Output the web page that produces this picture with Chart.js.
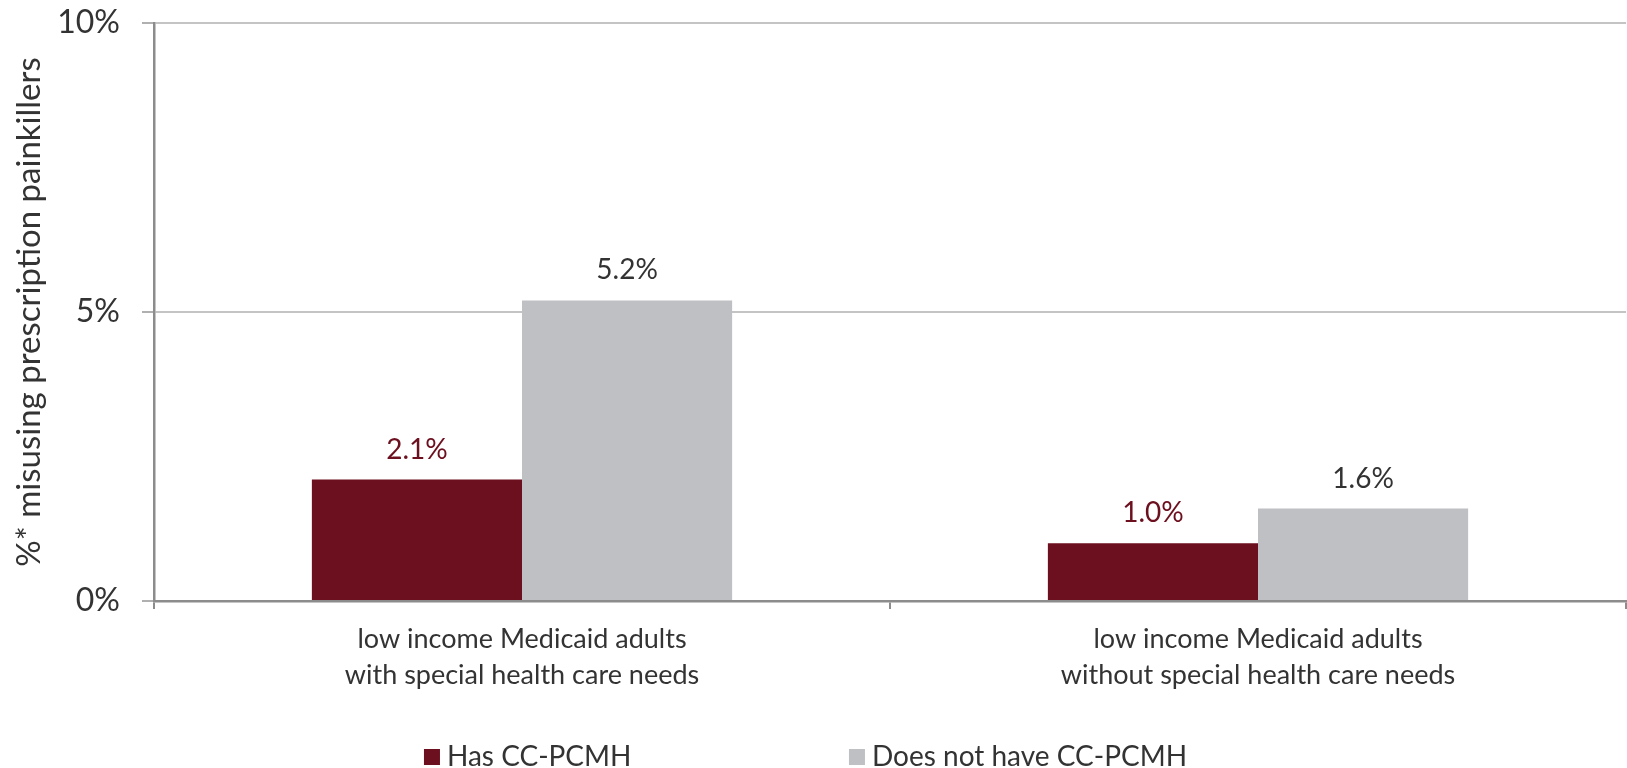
<!DOCTYPE html>
<html>
<head>
<meta charset="utf-8">
<script src="https://cdn.jsdelivr.net/npm/chart.js@4"></script>
<style>
html, body { margin: 0; padding: 0; background: #fff; }
#wrap { width: 1627px; height: 768px; }
</style>
</head>
<body>
<div id="wrap"><canvas id="grafico"></canvas></div>
<script>
// dados do gráfico
const categorias = [
  ['low income Medicaid adults', 'with special health care needs'],
  ['low income Medicaid adults', 'without special health care needs']
];
const nomesSeries = ['Has CC-PCMH', 'Does not have CC-PCMH'];
const temPCMH = [2.1, 1.0];
const semPCMH = [5.2, 1.6];
const ticksY = [0, 5, 10];
const tituloY = '%* misusing prescription painkillers';

const FONTE = 'Lato, "Gill Sans", "DejaVu Sans", sans-serif';
const VERMELHO = '#6c0f1e';
const CINZA = '#bfc0c4';
const TEXTO = '#333333';

// rótulos de valor em cima das barras
const rotulosValor = {
  id: 'rotulosValor',
  afterDatasetsDraw(chart) {
    const ctx = chart.ctx;
    ctx.save();
    ctx.font = '28px ' + FONTE;
    ctx.textAlign = 'center';
    ctx.textBaseline = 'bottom';
    chart.data.datasets.forEach((ds, i) => {
      const meta = chart.getDatasetMeta(i);
      ctx.fillStyle = ds.corRotulo;
      meta.data.forEach((bar, j) => {
        ctx.fillText(ds.data[j].toFixed(1) + '%', bar.x, bar.y - 16);
      });
    });
    ctx.restore();
  }
};

// legenda embaixo, itens com passo fixo entre o início de cada um
const legendaLarga = {
  id: 'legendaLarga',
  afterDraw(chart) {
    const ctx = chart.ctx;
    const caixa = 16, espaco = 7, passo = 425;
    ctx.save();
    ctx.font = '28px ' + FONTE;
    ctx.textBaseline = 'middle';
    const itens = chart.data.datasets.map(ds => ({
      texto: ds.label,
      cor: ds.backgroundColor,
      largura: caixa + espaco + ctx.measureText(ds.label).width
    }));
    const total = passo * (itens.length - 1) + itens[itens.length - 1].largura;
    let x = chart.width / 2 - total / 2 - 8;
    const y = chart.height - 11;
    itens.forEach(it => {
      ctx.fillStyle = it.cor;
      ctx.fillRect(x, y - caixa / 2, caixa, caixa);
      ctx.fillStyle = TEXTO;
      ctx.fillText(it.texto, x + caixa + espaco, y);
      x += passo;
    });
    ctx.restore();
  }
};

new Chart(document.getElementById('grafico'), {
  type: 'bar',
  data: {
    labels: categorias,
    datasets: [
      { label: nomesSeries[0], data: temPCMH, backgroundColor: VERMELHO, corRotulo: VERMELHO },
      { label: nomesSeries[1], data: semPCMH, backgroundColor: CINZA, corRotulo: TEXTO }
    ]
  },
  options: {
    responsive: true,
    maintainAspectRatio: false,
    animation: false,
    categoryPercentage: 0.571,
    barPercentage: 1.0,
    layout: { padding: { top: 23, right: 1, left: 0, bottom: 0 } },
    plugins: {
      legend: { display: false },
      tooltip: { enabled: false }
    },
    scales: {
      x: {
        afterFit(scale) { scale.height = 167; },
        border: { color: '#8c8c8c', width: 2.5 },
        grid: { offset: true, drawOnChartArea: false, tickLength: 8, color: '#8c8c8c', lineWidth: 2 },
        ticks: {
          color: TEXTO,
          padding: 12,
          font: { family: FONTE, size: 27, lineHeight: 1.35 }
        }
      },
      y: {
        min: 0,
        max: 10,
        afterFit(scale) {
          scale.width = 154;
          scale.paddingTop = 0;
          scale.paddingBottom = 0;
        },
        afterBuildTicks(scale) { scale.ticks = ticksY.map(v => ({ value: v })); },
        border: { color: '#8c8c8c', width: 2.5 },
        grid: { color: '#c4c4c4', lineWidth: 2, tickLength: 12, tickColor: '#b0b0b0' },
        ticks: {
          color: TEXTO,
          padding: 22,
          font: { family: FONTE, size: 32 },
          callback: v => v + '%'
        },
        title: {
          display: true,
          text: tituloY,
          color: TEXTO,
          padding: { top: 10, bottom: 0 },
          font: { family: FONTE, size: 33 }
        }
      }
    }
  },
  plugins: [rotulosValor, legendaLarga]
});
</script>
</body>
</html>
